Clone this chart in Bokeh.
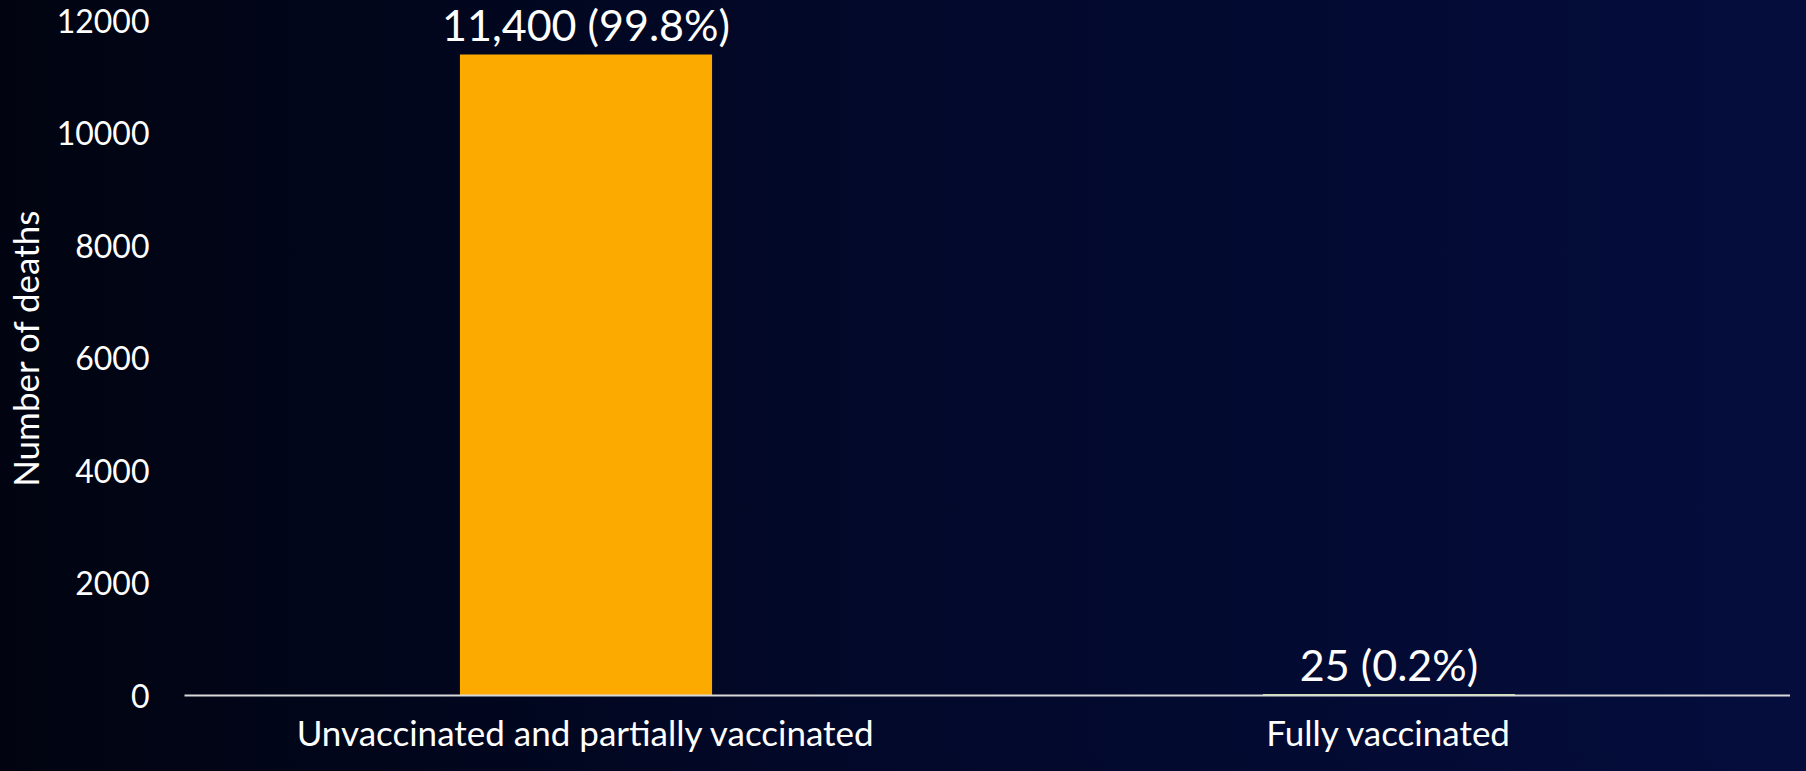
from bokeh.plotting import figure
from bokeh.models import ColumnDataSource, FixedTicker, Range1d
from bokeh.core.properties import value
from bokeh.embed import file_html
from bokeh.resources import INLINE

# ---- data ----
categories = ["Unvaccinated and partially vaccinated", "Fully vaccinated"]
deaths = [11400, 25]
percents = [99.8, 0.2]
bar_colors = ["#FDAA00", "#C5E68C"]
y_ticks = [0, 2000, 4000, 6000, 8000, 10000, 12000]
y_max = 12360

labels = [f"{d:,} ({p}%)" for d, p in zip(deaths, percents)]
src = ColumnDataSource(dict(cat=categories, deaths=deaths, label=labels, color=bar_colors))

FONT = "Lato"

p = figure(
    x_range=categories,
    y_range=Range1d(0, y_max),
    width=1790, height=755,
    output_backend="svg", toolbar_location=None,
    min_border_left=177, min_border_right=0, min_border_top=0, min_border_bottom=60,
)
p.styles = {"background": "linear-gradient(90deg, #010410 0%, #020828 45%, #040d3c 100%)"}
p.background_fill_alpha = 0
p.border_fill_alpha = 0
p.outline_line_color = None
p.grid.grid_line_color = None

p.vbar(x="cat", top="deaths", width=0.314, color="color", line_color=None, source=src)

p.text(x="cat", y="deaths", text="label", source=src,
       text_align="center", text_baseline="alphabetic", y_offset=-30,
       text_color="white", text_font=value(FONT), text_font_size="43px")

# x axis
xa = p.xaxis[0]
xa.axis_line_color = "#D9D9D9"
xa.axis_line_width = 2
xa.major_tick_line_color = None
xa.major_tick_out = 0
xa.major_tick_in = 0
xa.minor_tick_line_color = None
xa.major_label_text_color = "white"
xa.major_label_text_font = FONT
xa.major_label_text_font_size = "35px"
xa.major_label_standoff = 15

# y axis
ya = p.yaxis[0]
ya.ticker = FixedTicker(ticks=y_ticks)
ya.axis_line_color = None
ya.major_tick_line_color = None
ya.major_tick_out = 0
ya.major_tick_in = 0
ya.minor_tick_line_color = None
ya.major_label_text_color = "white"
ya.major_label_text_font = FONT
ya.major_label_text_font_size = "32px"
ya.major_label_standoff = 35
ya.axis_label = "Number of deaths"
ya.axis_label_text_color = "white"
ya.axis_label_text_font = FONT
ya.axis_label_text_font_size = "35px"
ya.axis_label_text_font_style = "normal"
ya.axis_label_standoff = 8

html = file_html(p, INLINE)
html = html.replace("<head>", "<head><style>html,body{background:linear-gradient(90deg,#010410 0%,#020828 45%,#040d3c 100%);}</style>", 1)
open("out.html", "w").write(html)
